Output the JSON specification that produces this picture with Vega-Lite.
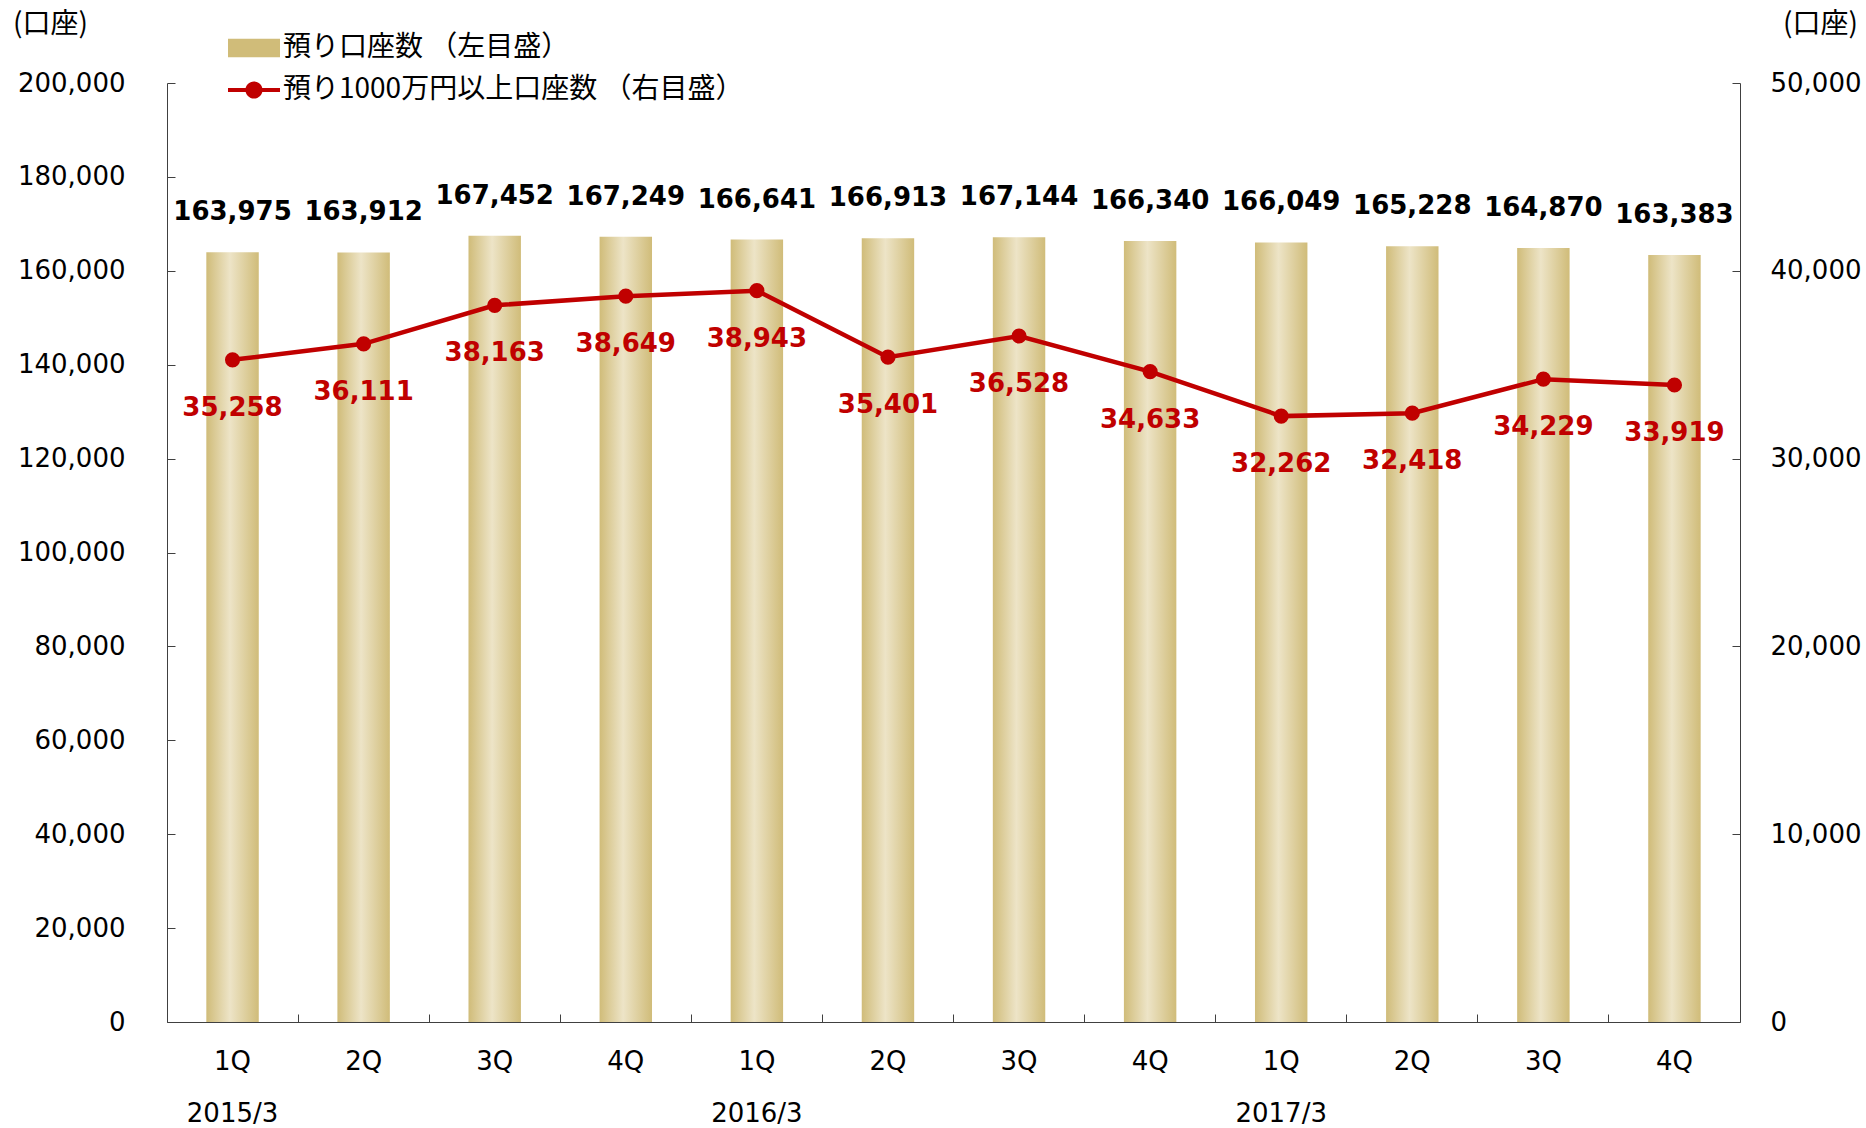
{
  "$schema": "https://vega.github.io/schema/vega-lite/v6.json",
  "width": 1573,
  "height": 939,
  "autosize": {"type": "none"},
  "padding": {"left": 167, "top": 83, "right": 126, "bottom": 106},
  "background": "white",
  "config": {
    "view": {"stroke": null},
    "font": "DejaVu Sans",
    "axis": {"grid": false, "labelFont": "DejaVu Sans", "labelFontSize": 26, "labelColor": "#000", "domainColor": "#404040", "tickColor": "#404040", "titleFont": "Noto Sans CJK JP", "titleFontSize": 28, "titleFontWeight": "normal", "titleColor": "#000"}
  },
  "data": {
    "values": [
      {"key": "2015/3|1Q", "acc": 163975, "rich": 35258},
      {"key": "2015/3|2Q", "acc": 163912, "rich": 36111},
      {"key": "2015/3|3Q", "acc": 167452, "rich": 38163},
      {"key": "2015/3|4Q", "acc": 167249, "rich": 38649},
      {"key": "2016/3|1Q", "acc": 166641, "rich": 38943},
      {"key": "2016/3|2Q", "acc": 166913, "rich": 35401},
      {"key": "2016/3|3Q", "acc": 167144, "rich": 36528},
      {"key": "2016/3|4Q", "acc": 166340, "rich": 34633},
      {"key": "2017/3|1Q", "acc": 166049, "rich": 32262},
      {"key": "2017/3|2Q", "acc": 165228, "rich": 32418},
      {"key": "2017/3|3Q", "acc": 164870, "rich": 34229},
      {"key": "2017/3|4Q", "acc": 163383, "rich": 33919}
    ]
  },
  "encoding": {
    "x": {
      "field": "key",
      "type": "nominal",
      "sort": null,
      "scale": {"paddingInner": 0, "paddingOuter": 0},
      "axis": {
        "title": null,
        "labelAngle": 0,
        "bandPosition": 0,
        "tickSize": -8,
        "labelPadding": 34,
        "labelLineHeight": 52,
        "labelBaseline": "top",
        "labelExpr": "split(datum.value,'|')[1] == '1Q' ? [split(datum.value,'|')[1], split(datum.value,'|')[0]] : split(datum.value,'|')[1]"
      }
    }
  },
  "layer": [
    {
      "layer": [
        {
          "mark": {
            "type": "bar",
            "width": {"band": 0.4},
            "fill": {
              "gradient": "linear",
              "x1": 0, "y1": 0, "x2": 1, "y2": 0,
              "stops": [
                {"offset": 0, "color": "#d0bc79"},
                {"offset": 0.45, "color": "#ede4c7"},
                {"offset": 1, "color": "#d0bc79"}
              ]
            }
          },
          "encoding": {
            "y": {
              "field": "acc",
              "type": "quantitative",
              "scale": {"domain": [0, 200000], "nice": false},
              "axis": {
                "orient": "left",
                "values": [0, 20000, 40000, 60000, 80000, 100000, 120000, 140000, 160000, 180000, 200000],
                "format": ",d",
                "tickSize": -8,
                "labelPadding": 50,
                "title": "(口座)",
                "titleAngle": 0,
                "titleAlign": "center",
                "titleBaseline": "middle",
                "titleX": -117,
                "titleY": -59
              }
            }
          }
        },
        {
          "mark": {"type": "text", "dy": -40, "fontWeight": "bold", "fontSize": 26, "baseline": "middle", "color": "#000"},
          "encoding": {
            "y": {"field": "acc", "type": "quantitative"},
            "text": {"field": "acc", "type": "quantitative", "format": ",d"}
          }
        }
      ]
    },
    {
      "encoding": {
        "y": {
          "field": "rich",
          "type": "quantitative",
          "scale": {"domain": [0, 50000], "nice": false},
          "axis": {
            "orient": "right",
            "values": [0, 10000, 20000, 30000, 40000, 50000],
            "format": ",d",
            "tickSize": -8,
            "labelPadding": 38,
            "title": "(口座)",
            "titleAngle": 0,
            "titleAlign": "center",
            "titleBaseline": "middle",
            "titleX": 80,
            "titleY": -59
          }
        }
      },
      "layer": [
        {
          "mark": {"type": "line", "strokeWidth": 4.5},
          "encoding": {
            "color": {
              "datum": "預り1000万円以上口座数 （右目盛）",
              "type": "nominal",
              "scale": {"domain": ["預り口座数 （左目盛）", "預り1000万円以上口座数 （右目盛）"], "range": ["#d0bc79", "#c00000"]},
              "legend": {
                "orient": "none",
                "legendX": 61,
                "legendY": -61,
                "direction": "vertical",
                "title": null,
                "padding": 0,
                "labelFont": "Noto Sans CJK JP",
                "labelFontSize": 28,
                "labelColor": "#000",
                "labelLimit": 0,
                "labelOffset": 3,
                "rowPadding": 2,
                "symbolSize": 2704,
                "encode": {
                  "symbols": {
                    "update": {
                      "shape": {"signal": "datum.value == '預り口座数 （左目盛）' ? 'M-1,-0.36H1V0.36H-1Z' : 'M-1,-0.08H-0.3V0.08H-1Z M0.3,-0.08H1V0.08H0.3Z M0.33,0A0.33,0.33 0 1,1 -0.33,0A0.33,0.33 0 1,1 0.33,0Z'"},
                      "fill": {"signal": "datum.value == '預り口座数 （左目盛）' ? {gradient: 'linear', x1: 0, y1: 0, x2: 1, y2: 0, stops: [{offset: 0, color: '#d0bc79'}, {offset: 0.45, color: '#ede4c7'}, {offset: 1, color: '#d0bc79'}]} : '#c00000'"},
                      "strokeWidth": {"value": 0},
                      "opacity": {"value": 1},
                      "fillOpacity": {"value": 1}
                    }
                  }
                }
              }
            }
          }
        },
        {
          "mark": {"type": "point", "filled": true, "size": 230, "opacity": 1},
          "encoding": {
            "color": {"datum": "預り1000万円以上口座数 （右目盛）", "type": "nominal"}
          }
        },
        {
          "mark": {"type": "text", "dy": 48, "fontWeight": "bold", "fontSize": 26, "baseline": "middle", "color": "#c00000"},
          "encoding": {
            "text": {"field": "rich", "type": "quantitative", "format": ",d"}
          }
        }
      ]
    }
  ],
  "resolve": {"scale": {"y": "independent"}}
}
